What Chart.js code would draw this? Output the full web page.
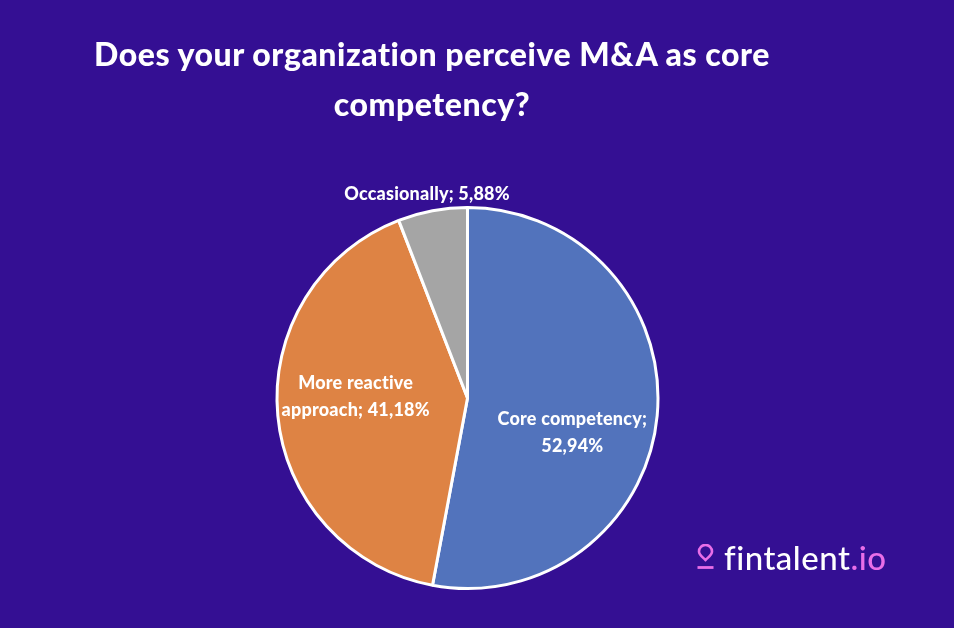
<!DOCTYPE html>
<html>
<head>
<meta charset="utf-8">
<style>
  html, body { margin: 0; padding: 0; background: #340f93; }
  #wrap { position: relative; width: 954px; height: 628px; overflow: hidden; font-family: "Lato", sans-serif; color: #fff; }
  #title { position: absolute; left: 32px; top: 29px; width: 800px; text-align: center; font-size: 32px; font-weight: 900; line-height: 50px; letter-spacing: 0.55px; }
  #logo { position: absolute; left: 696px; top: 537px; height: 40px; display: flex; align-items: center; }
  #logo span.name { font-size: 33px; font-weight: 500; margin-left: 9px; letter-spacing: 0.5px; }
  #logo span.io { color: #e96ee8; }
</style>
</head>
<body>
<div id="wrap">
  <canvas id="pieChart" width="954" height="628"></canvas>
  <div id="title">Does your organization perceive M&amp;A as core<br>competency?</div>
  <div id="logo">
    <svg width="19" height="26" viewBox="0 0 19 26">
      <path d="M9.5 16 C6.5 13 3 10.8 3 7.4 A6.5 6.5 0 0 1 16 7.4 C16 10.8 12.5 13 9.5 16 Z" fill="none" stroke="#e96ee8" stroke-width="2.6"/>
      <line x1="1.5" y1="23.5" x2="17.5" y2="23.5" stroke="#e96ee8" stroke-width="2.8"/>
    </svg>
    <span class="name">fintalent<span class="io">.io</span></span>
  </div>
</div>
<script src="https://cdn.jsdelivr.net/npm/chart.js@4"></script>
<script>
const categories = ["Core competency", "More reactive approach", "Occasionally"];
const shares = [52.94, 41.18, 5.88];
const sliceColors = ["#5273bc", "#de8344", "#a5a5a5"];

// each label broken up the way the original wraps it
const labelLines = [
  ["Core competency;", "52,94%"],
  ["More reactive", "approach; 41,18%"],
  ["Occasionally; 5,88%"],
];
const labelOffsets = [
  [10, 26],
  [-17, -10],
  [-23, -110],
];

const sliceLabels = {
  id: "sliceLabels",
  afterDatasetsDraw(chart) {
    const ctx = chart.ctx;
    const arcs = chart.getDatasetMeta(0).data;
    ctx.save();
    ctx.fillStyle = "#fff";
    ctx.font = "900 18px Lato";
    ctx.letterSpacing = "0.2px";
    ctx.textAlign = "center";
    ctx.textBaseline = "middle";
    arcs.forEach((arc, i) => {
      const pos = arc.tooltipPosition();
      const lines = labelLines[i];
      const top = pos.y + labelOffsets[i][1] - ((lines.length - 1) * 27) / 2;
      lines.forEach((line, j) => {
        ctx.fillText(line, pos.x + labelOffsets[i][0], top + j * 27);
      });
    });
    ctx.restore();
  },
};

new Chart(document.getElementById("pieChart").getContext("2d"), {
  type: "pie",
  data: {
    labels: categories,
    datasets: [
      {
        data: shares,
        backgroundColor: sliceColors,
        borderColor: "#fff",
        borderWidth: 3,
      },
    ],
  },
  options: {
    responsive: false,
    animation: false,
    layout: { padding: { top: 206, bottom: 38, left: 0, right: 19 } },
    plugins: {
      legend: { display: false },
      tooltip: { enabled: false },
    },
  },
  plugins: [sliceLabels],
});
</script>
</body>
</html>
